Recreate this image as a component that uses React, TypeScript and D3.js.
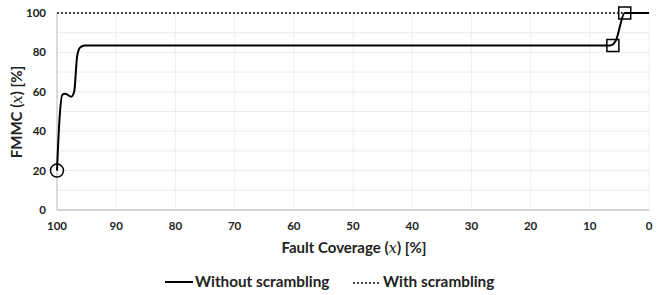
import React from 'react';
import * as d3 from 'd3';

// Values
const xTicks = [100, 90, 80, 70, 60, 50, 40, 30, 20, 10, 0];
const yTicks = [0, 20, 40, 60, 80, 100];
const gridY = [10, 20, 30, 40, 50, 60, 70, 80, 90, 100];

const withoutCoverage = [100, 99.6, 99.1, 98.6, 97.6, 97.1, 96.6, 96.1, 95.3, 94.5, 30, 6.6, 6.1, 5.6, 4.1, 0];
const withoutFmmc = [20, 45, 58.5, 59, 57.5, 60, 78, 82.5, 83.5, 83.5, 83.5, 83.5, 84, 86, 100, 100];

const withCoverage = [100, 0];
const withFmmc = [100, 100];

const circleMarkers = [{ x: 100, y: 20 }];
const squareMarkers = [{ x: 6.1, y: 83.5 }, { x: 4.1, y: 100 }];

const legendItems = ['Without scrambling', 'With scrambling'];

export default function App() {
  const width = 660;
  const height = 295;
  const margin = { top: 13, right: 11, bottom: 85, left: 57 };
  const innerW = width - margin.left - margin.right;
  const innerH = height - margin.top - margin.bottom;

  const x = d3.scaleLinear().domain([100, 0]).range([0, innerW]);
  const y = d3.scaleLinear().domain([0, 100]).range([innerH, 0]);

  const line = d3.line<number>()
    .x((_, i) => x(withoutCoverage[i]))
    .y(d => y(d))
    .curve(d3.curveMonotoneX);

  const dotted = d3.line<number>()
    .x((_, i) => x(withCoverage[i]))
    .y(d => y(d));

  const font = 'Lato, "Open Sans", sans-serif';

  return (
    <svg width={width} height={height} style={{ position: 'absolute', left: 0, top: 0, background: '#fff' }}>
      <g transform={`translate(${margin.left},${margin.top})`} fontFamily={font}>
        {/* gridlines */}
        {gridY.map(v => (
          <line key={'gy' + v} x1={0} x2={innerW} y1={y(v)} y2={y(v)} stroke="#ececec" strokeWidth={1} />
        ))}
        {xTicks.filter(v => v !== 100).map(v => (
          <line key={'gx' + v} x1={x(v)} x2={x(v)} y1={0} y2={innerH} stroke="#efefef" strokeWidth={1} />
        ))}
        {/* axes */}
        <line x1={0} x2={0} y1={0} y2={innerH} stroke="#d0d0d0" strokeWidth={1.5} />
        <line x1={0} x2={innerW} y1={innerH} y2={innerH} stroke="#c4c4c4" strokeWidth={1.5} />

        {yTicks.map(v => (
          <text key={'yt' + v} x={-11} y={y(v)} dy="0.35em" textAnchor="end" fontSize={11.5} fontWeight="bold" fill="#222">{v}</text>
        ))}
        {xTicks.map(v => (
          <text key={'xt' + v} x={x(v)} y={innerH + 20} textAnchor="middle" fontSize={11.5} fontWeight="bold" fill="#222">{v}</text>
        ))}

        {/* with scrambling */}
        <path d={dotted(withFmmc) || ''} fill="none" stroke="#111" strokeWidth={1.5} strokeDasharray="2,2" />
        {/* without scrambling */}
        <path d={line(withoutFmmc) || ''} fill="none" stroke="#000" strokeWidth={2} />

        {circleMarkers.map((m, i) => (
          <circle key={'c' + i} cx={x(m.x)} cy={y(m.y)} r={6.5} fill="none" stroke="#000" strokeWidth={1.5} />
        ))}
        {squareMarkers.map((m, i) => (
          <rect key={'s' + i} x={x(m.x) - 6} y={y(m.y) - 6} width={12} height={12} fill="none" stroke="#000" strokeWidth={1.5} />
        ))}

        {/* axis titles */}
        <text x={297} y={innerH + 38} dy="0.35em" textAnchor="middle" fontSize={15} fontWeight="bold" fill="#222">
          Fault Coverage (<tspan fontStyle="italic" fontFamily="DejaVu Serif, serif" fontWeight="normal">x</tspan>) [%]
        </text>
        <text transform={`translate(${-40},${99}) rotate(-90)`} dy="0.35em" textAnchor="middle" fontSize={15} fontWeight="bold" fill="#222">
          FMMC (<tspan fontStyle="italic" fontFamily="DejaVu Serif, serif" fontWeight="normal">x</tspan>) [%]
        </text>
      </g>

      {/* legend */}
      <g fontFamily={font} fontSize={15.3} fontWeight="bold" fill="#222">
        <line x1={165} x2={193} y1={282} y2={282} stroke="#000" strokeWidth={2} />
        <text x={195} y={282} dy="0.35em">{legendItems[0]}</text>
        <line x1={353} x2={379} y1={283} y2={283} stroke="#111" strokeWidth={1.5} strokeDasharray="2,2" />
        <text x={383} y={282} dy="0.35em">{legendItems[1]}</text>
      </g>
    </svg>
  );
}
